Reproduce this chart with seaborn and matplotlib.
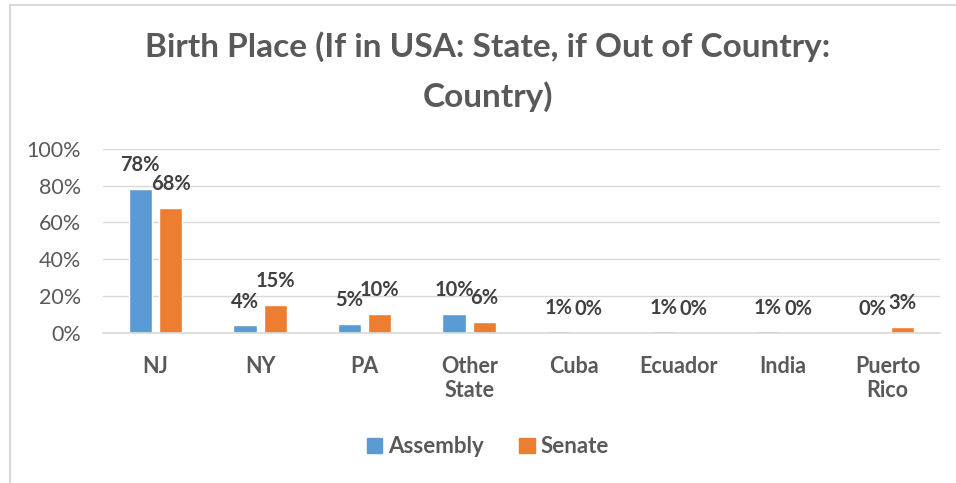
import seaborn as sns
import matplotlib.pyplot as plt
import pandas as pd
from matplotlib.lines import Line2D
from matplotlib.patches import Patch

categories = ["NJ", "NY", "PA", "Other\nState", "Cuba", "Ecuador", "India", "Puerto\nRico"]
assembly = [78, 4, 5, 10, 0.7, 0.7, 0.7, 0]
senate = [68, 15, 10, 6, 0, 0, 0, 3]

df = pd.DataFrame({
    "cat": categories * 2,
    "val": assembly + senate,
    "body": ["Assembly"] * len(categories) + ["Senate"] * len(categories),
})

sns.set_style("white")
plt.rcParams["font.family"] = ["Lato", "DejaVu Sans"]

fig = plt.figure(figsize=(9.56, 4.83), dpi=100)
ax = fig.add_axes([0.108, 0.311, 0.875, 0.381])

colors = {"Assembly": "#5B9BD5", "Senate": "#ED7D31"}
sns.barplot(data=df, x="cat", y="val", hue="body", palette=colors, saturation=1,
            width=0.58, gap=0.23, ax=ax, legend=False)

ax.set_ylim(0, 100)
ax.set_yticks(range(0, 101, 20))
ax.set_yticklabels([f"{t}%" for t in range(0, 101, 20)], fontsize=15.5, color="#595959")
ax.yaxis.grid(True, color="#D9D9D9", linewidth=1)
ax.set_axisbelow(True)
for s in ["left", "right", "top"]:
    ax.spines[s].set_visible(False)
ax.spines["bottom"].set_color("#D9D9D9")
ax.spines["bottom"].set_linewidth(1.2)
ax.tick_params(axis="y", length=0, pad=16)
ax.tick_params(axis="x", length=0, pad=17)
ax.set_xlabel("")
ax.set_ylabel("")
for lab in ax.get_xticklabels():
    lab.set_fontweight("bold")
    lab.set_fontsize(15.5)
    lab.set_color("#595959")
    lab.set_linespacing(1.15)

for cont in ax.containers:
    ax.bar_label(cont, labels=[f"{v:.0f}%" for v in cont.datavalues],
                 fontsize=14.5, fontweight="bold", color="#404040", padding=10)

fig.text(0.51, 0.935, "Birth Place (If in USA: State, if Out of Country:\nCountry)",
         ha="center", va="top", fontsize=24, fontweight="bold", color="#595959",
         linespacing=1.75)

handles = [Patch(color=colors[k], label=k) for k in colors]
fig.legend(handles=handles, loc="center", bbox_to_anchor=(0.51, 0.075), ncol=2,
           frameon=False, handlelength=0.7, handleheight=0.7, handletextpad=0.25,
           columnspacing=1.6, prop={"weight": "bold", "size": 16}, labelcolor="#595959")

fig.add_artist(Line2D([10 / 956, 1], [1 - 5 / 483] * 2, transform=fig.transFigure,
                      color="#D9D9D9", linewidth=1.5))
fig.add_artist(Line2D([10 / 956] * 2, [0, 1 - 5 / 483], transform=fig.transFigure,
                      color="#D9D9D9", linewidth=1.5))

fig.savefig("out.png", dpi=100)
